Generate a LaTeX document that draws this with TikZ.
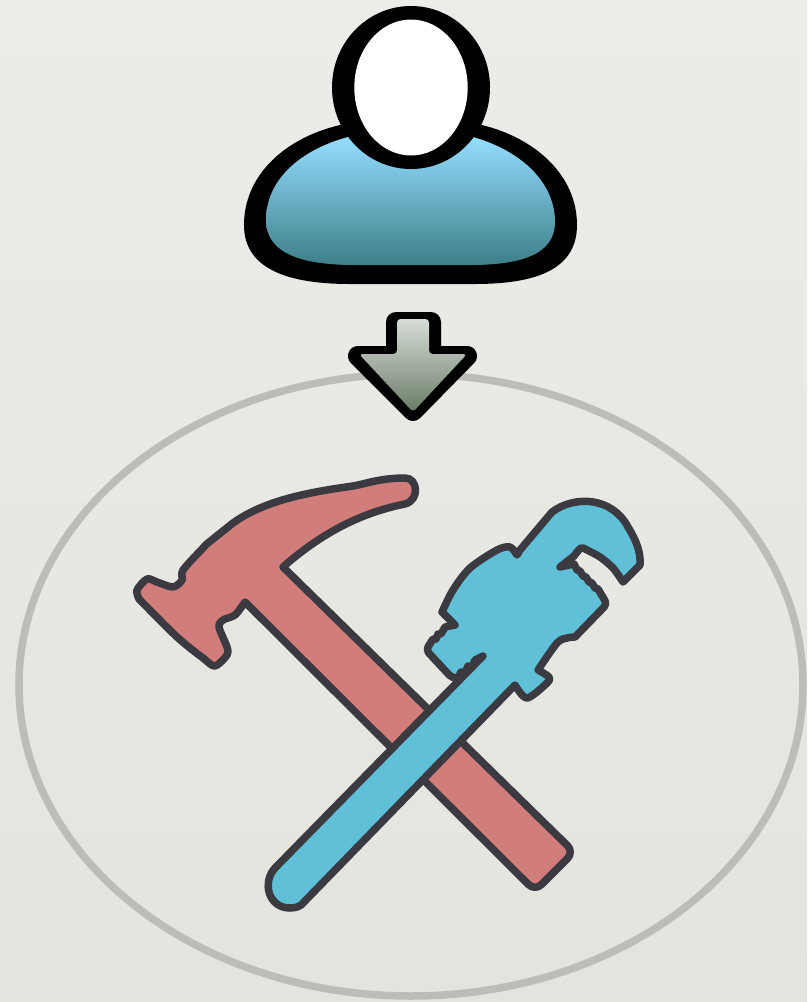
\documentclass[tikz,border=0pt]{standalone}
\usetikzlibrary{shadings}
\definecolor{bgtop}{HTML}{ECECE8}
\definecolor{bgbot}{HTML}{E4E4DF}
\definecolor{ringc}{HTML}{BDBDB8}
\definecolor{toolline}{HTML}{3A3A40}
\definecolor{hammerc}{HTML}{D17D7B}
\definecolor{wrenchc}{HTML}{5FC0D8}
\definecolor{bodytop}{HTML}{93DDFF}
\definecolor{bodybot}{HTML}{3E7F88}
\definecolor{arrowtop}{HTML}{D6DDD7}
\definecolor{arrowbot}{HTML}{6C7C68}
\tikzset{
 toolshape/.style={draw=toolline,line width=7.5pt,line join=round},
 smoothy/.style={smooth,tension=.5}
}
\begin{document}
\begin{tikzpicture}[x=1pt,y=-1pt]
\useasboundingbox (0,0) rectangle (807,1002);
\shade[top color=bgtop,bottom color=bgbot] (0,0) rectangle (807,1002);
% ring
\draw[ringc,line width=7.5pt] (411,685) ellipse [x radius=392,y radius=311];
% person body
\fill[black] (340,125) .. controls (285,138) and (244,175) .. (244,225)
  .. controls (244,270) and (290,284) .. (350,284) -- (475,284)
  .. controls (535,284) and (577,270) .. (577,225)
  .. controls (577,175) and (535,138) .. (482,125) -- cycle;
\shade[top color=bodytop,bottom color=bodybot] (348,137) .. controls (300,150) and (266,180) .. (266,220)
  .. controls (266,255) and (305,265) .. (355,265) -- (470,265)
  .. controls (520,265) and (555,255) .. (555,222)
  .. controls (555,185) and (525,152) .. (473,137) -- cycle;
% head
\fill[black] (411,87.5) ellipse [x radius=79,y radius=81.5];
\fill[white] (411,87.5) ellipse [x radius=56.7,y radius=68];
% arrow
\draw[black,fill=black,line width=20pt,line join=round] (396,322) -- (431,322) -- (431,356) -- (467,356) -- (413,411) -- (358,356) -- (396,356) -- cycle;
\shade[top color=arrowtop,bottom color=arrowbot,rounded corners=3.5pt] (397,319) -- (429,319) -- (429,354) -- (467,354) -- (413,412) -- (359,354) -- (397,354) -- cycle;
% hammer
\path[toolshape,fill=hammerc]
  plot[smoothy] coordinates {(245,602) (235,615) (223,620) (219,627) (227,647) (227,655) (215,666) (203,658) (177,637) (139,599)}
  -- plot[smoothy] coordinates {(139,599) (137,590) (147,579) (157,582) (173,587) (182,580) (183,570) (203,548) (208,543) (233,523)}
  .. controls (265,500) and (310,492) .. (353,486)
  .. controls (365,484) and (380,478) .. (405,478)
  .. controls (418,478) and (420,500) .. (405,504)
  .. controls (365,512) and (325,530) .. (283,567)
  [rounded corners=9pt] -- (574,852) -- (535,891) [sharp corners] -- cycle;
% wrench
\path[toolshape,fill=wrenchc]
  (483,656) -- (275,868)
  .. controls (262,882) and (268,908) .. (290,908)
  .. controls (297,908) and (301,906) .. (304,902)
  -- (515,685)
  -- plot[smoothy] coordinates {(515,685) (527,698) (547,683) (549,677) (538,670)}
  -- plot[smoothy] coordinates {(538,670) (557,643) (567,638) (575,637)}
  [rounded corners=4pt] -- (607,604) [sharp corners]
  -- (601,594) -- (598,589) -- (595,588) -- (592,583) -- (589,582) -- (586,577) -- (583,576) -- (580,571) -- (577,570) -- (574,564) -- (560,567)
  -- plot[smoothy] coordinates {(574,556) (581,548) (587,550) (600,557) (613,568) (623,582)}
  -- (640,565)
  .. controls (641,552) and (636,540) .. (628,527)
  .. controls (612,497) and (575,495) .. (552,512)
  -- (520,550) -- (517,555)
  -- plot[smoothy] coordinates {(517,555) (510,547) (497,550) (470,568) (453,590) (442,612)}
  -- (455,625) -- (445,627) -- (441,634) -- (438,634) -- (436,639) -- (433,639)
  [rounded corners=4pt] -- (426,650) -- (452,678) [sharp corners]
  -- (458,678) -- (461,672) -- (465,673) -- (468,666) -- (472,667) -- (475,660) -- cycle;
\end{tikzpicture}
\end{document}
